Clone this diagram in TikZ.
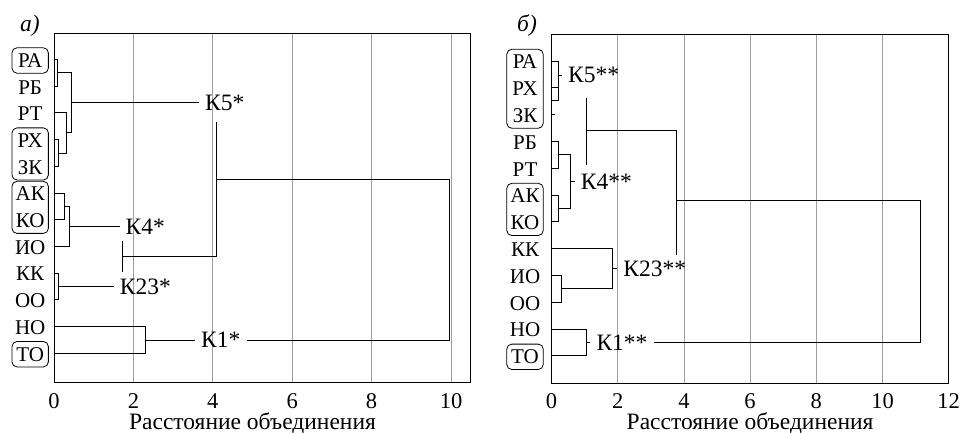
\documentclass[tikz,border=0pt]{standalone}
\usepackage{fontspec}
\setmainfont{Liberation Serif}
\usetikzlibrary{fit}

\begin{document}
\begin{tikzpicture}[x=1pt,y=-1pt,
  grid/.style={gray!75, line width=0.8pt},
  frame/.style={black, line width=0.9pt},
  tree/.style={black, line width=0.8pt},
  leaf/.style={font=\fontsize{21}{25}\selectfont, minimum width=34pt, minimum height=23pt, inner sep=0pt},
  grp/.style={draw, rounded corners=5pt, line width=0.8pt, inner sep=1pt},
  clus/.style={font=\fontsize{23.5}{28}\selectfont, inner sep=6pt},
  tick/.style={font=\fontsize{22.5}{26}\selectfont, inner sep=0pt, anchor=base},
  ttl/.style={font=\fontsize{23.5}{28}\selectfont, inner sep=0pt, anchor=base}]

\useasboundingbox (0,0) rectangle (962,433);

% panel a
\node[ttl] (pa) at (30,32) {\textit{а)}};
\begin{scope}[shift={(54pt,0pt)}, x=39.7pt]
\foreach \x in {2,4,...,10}
	{\draw[grid] (\x,33) -- (\x,382);}
\draw[frame] (0,33) rectangle (10.48,382);
\foreach \x in {0,2,...,10}
	{\node[tick] (ta\x) at (\x,408) {\x};}
\node[ttl] (xa) at (5,429) {Расстояние объединения};

\foreach \i/\nm in {0/РА,1/РБ,2/РТ,3/РХ,4/ЗК,5/АК,6/КО,7/ИО,8/КК,9/ОО,10/НО,11/ТО}
	{\node[leaf] (a\i) at (-0.6,{59.5+26.7*\i+1}) {\nm};}
\node[grp, fit=(a0)] {};
\node[grp, fit=(a3)(a4)] {};
\node[grp, fit=(a5)(a6)] {};
\node[grp, fit=(a11)] {};

% K5*
\draw[tree] (0,59.5) -- (0.09,59.5) -- (0.09,86.2) -- (0,86.2);
\draw[tree] (0,139.6) -- (0.11,139.6) -- (0.11,166.3) -- (0,166.3);
\draw[tree] (0,112.9) -- (0.3,112.9) -- (0.3,153) -- (0.11,153);
\draw[tree] (0.09,72.9) -- (0.45,72.9) -- (0.45,132.9) -- (0.3,132.9);
\node[clus] (k5a) at (4.3,102.9) {К5*};
\draw[tree] (0.45,102.9) -- (k5a);
% K4*
\draw[tree] (0,193) -- (0.25,193) -- (0.25,219.7) -- (0,219.7);
\draw[tree] (0.25,206.4) -- (0.39,206.4) -- (0.39,246.4) -- (0,246.4);
\node[clus] (k4a) at (2.3,226.4) {К4*};
\draw[tree] (0.39,226.4) -- (k4a);
% K23*
\draw[tree] (0,273.1) -- (0.11,273.1) -- (0.11,299.8) -- (0,299.8);
\node[clus] (k23a) at (2.3,286.5) {К23*};
\draw[tree] (0.11,286.5) -- (k23a);
\draw[tree] (1.73,241) -- (1.73,272);
\draw[tree] (1.73,256.5) -- (4.1,256.5) -- (4.1,122);
% K1*
\draw[tree] (0,326.5) -- (2.29,326.5) -- (2.29,353.2) -- (0,353.2);
\node[clus] (k1a) at (4.2,339.9) {К1*};
\draw[tree] (2.29,339.9) -- (k1a);
\draw[tree] (k1a) -- (9.95,339.9) -- (9.95,179.7) -- (4.1,179.7);
\end{scope}

% panel b
\node[ttl] (pb) at (527,32) {\textit{б)}};
\begin{scope}[shift={(551.5pt,0pt)}, x=33.1pt]
\foreach \x in {2,4,...,10}
	{\draw[grid] (\x,34) -- (\x,383);}
\draw[frame] (0,34) rectangle (12,383);
\foreach \x in {0,2,...,12}
	{\node[tick] (tb\x) at (\x,408) {\x};}
\node[ttl] (xb) at (6,429) {Расстояние объединения};

\foreach \i/\nm in {0/РА,1/РХ,2/ЗК,3/РБ,4/РТ,5/АК,6/КО,7/КК,8/ИО,9/ОО,10/НО,11/ТО}
	{\node[leaf] (b\i) at (-0.8,{61+26.8*\i+1}) {\nm};}
\node[grp, fit=(b0)(b2)] {};
\node[grp, fit=(b5)(b6)] {};
\node[grp, fit=(b11)] {};

% K5**
\draw[tree] (0,61) -- (0.2,61) -- (0.2,100) -- (0,100);
\draw[tree] (0,87.8) -- (0.2,87.8);
\draw[tree] (0,114.6) -- (0.12,114.6);
\node[clus] (k5b) at (1.27,75) {К5**};
\draw[tree] (0.2,75) -- (k5b);
% K4**
\draw[tree] (0,141.4) -- (0.2,141.4) -- (0.2,168.2) -- (0,168.2);
\draw[tree] (0,195) -- (0.22,195) -- (0.22,221.8) -- (0,221.8);
\draw[tree] (0.2,154.8) -- (0.57,154.8) -- (0.57,208.4) -- (0.22,208.4);
\node[clus] (k4b) at (1.66,181.6) {К4**};
\draw[tree] (0.57,181.6) -- (k4b);
\draw[tree] (1.05,98) -- (1.05,165);
\draw[tree] (1.05,130) -- (3.77,130) -- (3.77,255);
% K23**
\draw[tree] (0,275.4) -- (0.29,275.4) -- (0.29,302.2) -- (0,302.2);
\draw[tree] (0,248.6) -- (1.85,248.6) -- (1.85,288.8) -- (0.29,288.8);
\node[clus] (k23b) at (3.12,268.7) {К23**};
\draw[tree] (1.85,268.7) -- (k23b);
% K1**
\draw[tree] (0,329) -- (1.05,329) -- (1.05,355.8) -- (0,355.8);
\node[clus] (k1b) at (2.13,342.4) {К1**};
\draw[tree] (1.05,342.4) -- (k1b);
\draw[tree] (k1b) -- (11.14,342.4) -- (11.14,200) -- (3.77,200);
\end{scope}

\end{tikzpicture}
\end{document}
